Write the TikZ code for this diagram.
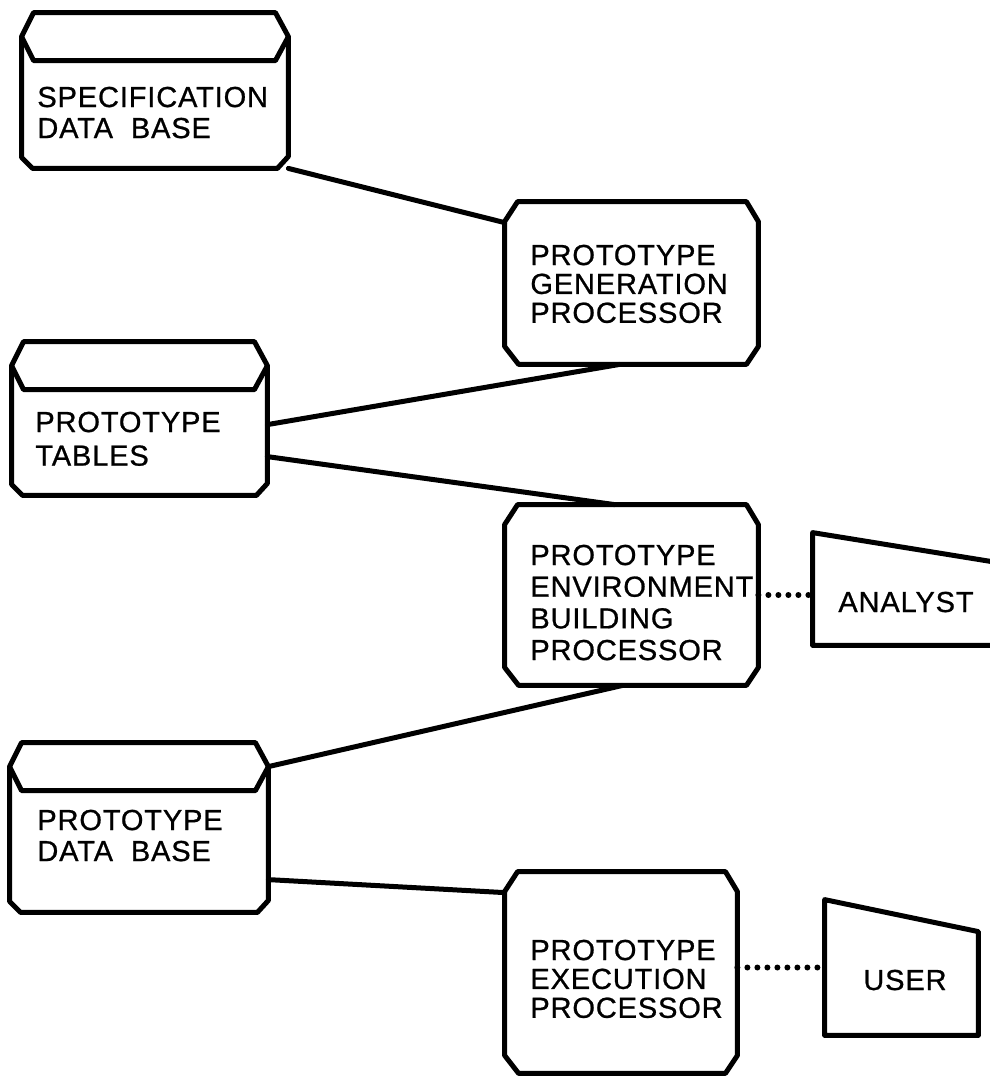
\documentclass[tikz,border=0pt]{standalone}
\usepackage{fontspec}
\setmainfont[LetterSpace=3,FakeBold=0.8]{Liberation Sans}
\usetikzlibrary{calc,fit}
\tikzset{
  area/.style={inner sep=0pt, draw=none, rectangle},
  outl/.style={line width=2.5pt, line join=round, black},
  conn/.style={line width=2.5pt, line cap=round, black},
  dotconn/.style={line width=3pt, line cap=round, dash pattern=on 0pt off 5pt, black},
  txt/.style={anchor=base west, inner sep=0pt, font=\fontsize{14.5}{16}\selectfont},
}
\newcommand\dbshape[1]{%
  \draw[outl] ($(#1.north west)+(0,24)$) -- ($(#1.north west)+(12,0)$) -- ($(#1.north east)+(-13,0)$) -- ($(#1.north east)+(0,24)$) -- ($(#1.south east)+(0,-12)$) -- ($(#1.south east)+(-11,0)$) -- ($(#1.south west)+(11,0)$) -- ($(#1.south west)+(0,-11)$) -- cycle;
  \draw[outl] ($(#1.north west)+(0,24)$) -- ($(#1.north west)+(12,48)$) -- ($(#1.north east)+(-13,48)$) -- ($(#1.north east)+(0,24)$);}
\newcommand\procshape[1]{%
  \draw[outl] ($(#1.north west)+(0,20)$) -- ($(#1.north west)+(13,0)$) -- ($(#1.north east)+(-12,0)$) -- ($(#1.north east)+(0,20)$) -- ($(#1.south east)+(0,-18)$) -- ($(#1.south east)+(-12,0)$) -- ($(#1.south west)+(14,0)$) -- ($(#1.south west)+(0,-18)$) -- cycle;}
\newcommand\actorshape[1]{%
  \draw[outl] (#1.south west) -- (#1.north west) -- ($(#1.north east)+(0,32)$) -- (#1.south east) -- cycle;}
\newcommand\tlines[2]{{\def\arraystretch{#1}\begin{tabular}[t]{@{}l@{}}#2\end{tabular}}}
\begin{document}
\begin{tikzpicture}[x=0.5pt,y=-0.5pt]
\useasboundingbox (0,0) rectangle (990,1078);
\clip (0,0) rectangle (990,1078);
% areas
\node[area, fit={(22,13) (288,168)}] (spec) {};
\node[area, fit={(12,342) (267,495)}] (tables) {};
\node[area, fit={(10,743) (268,912)}] (pdb) {};
\node[area, fit={(505,202) (758,364)}] (gen) {};
\node[area, fit={(505,505) (758,685)}] (env) {};
\node[area, fit={(505,872) (737,1073)}] (exec) {};
\node[area, fit={(813,533) (1010,645)}] (analyst) {};
\node[area, fit={(825,900) (978,1035)}] (user) {};
% outlines
\dbshape{spec}
\dbshape{tables}
\dbshape{pdb}
\procshape{gen}
\procshape{env}
\procshape{exec}
\actorshape{analyst}
\actorshape{user}
% texts
\node[txt] (specT) at (37,107) {\tlines{0.97}{SPECIFICATION\\DATA~~BASE}};
\node[txt] (tablesT) at (35,432) {\tlines{1.05}{PROTOTYPE\\TABLES}};
\node[txt] (pdbT) at (37,830) {\tlines{0.97}{PROTOTYPE\\DATA~~BASE}};
\node[txt] (genT) at (530,265) {\tlines{0.9}{PROTOTYPE\\GENERATION\\PROCESSOR}};
\node[txt] (envT) at (530,565) {\tlines{0.99}{PROTOTYPE\\ENVIRONMENT\\BUILDING\\PROCESSOR}};
\node[txt] (execT) at (530,960) {\tlines{0.9}{PROTOTYPE\\EXECUTION\\PROCESSOR}};
\node[txt] (analystT) at (838,612) {ANALYST};
\node[txt] (userT) at (863,990) {USER};
% connectors
\draw[conn] (spec.south east) -- ($(gen.north west)+(0,21)$);
\draw[conn] ($(tables.north east)+(0,83)$) -- ($(gen.south west)+(115,0)$);
\draw[conn] ($(tables.north east)+(0,115)$) -- ($(env.north west)+(110,0)$);
\draw[conn] ($(pdb.north east)+(0,24)$) -- ($(env.south west)+(118,0)$);
\draw[conn] ($(pdb.north east)+(0,137)$) -- ($(exec.north west)+(0,21)$);
\draw[dotconn] (env.east) -- (env.east -| analyst.west);
\draw[dotconn] (exec.east |- user.west) -- (user.west);
\end{tikzpicture}
\end{document}
